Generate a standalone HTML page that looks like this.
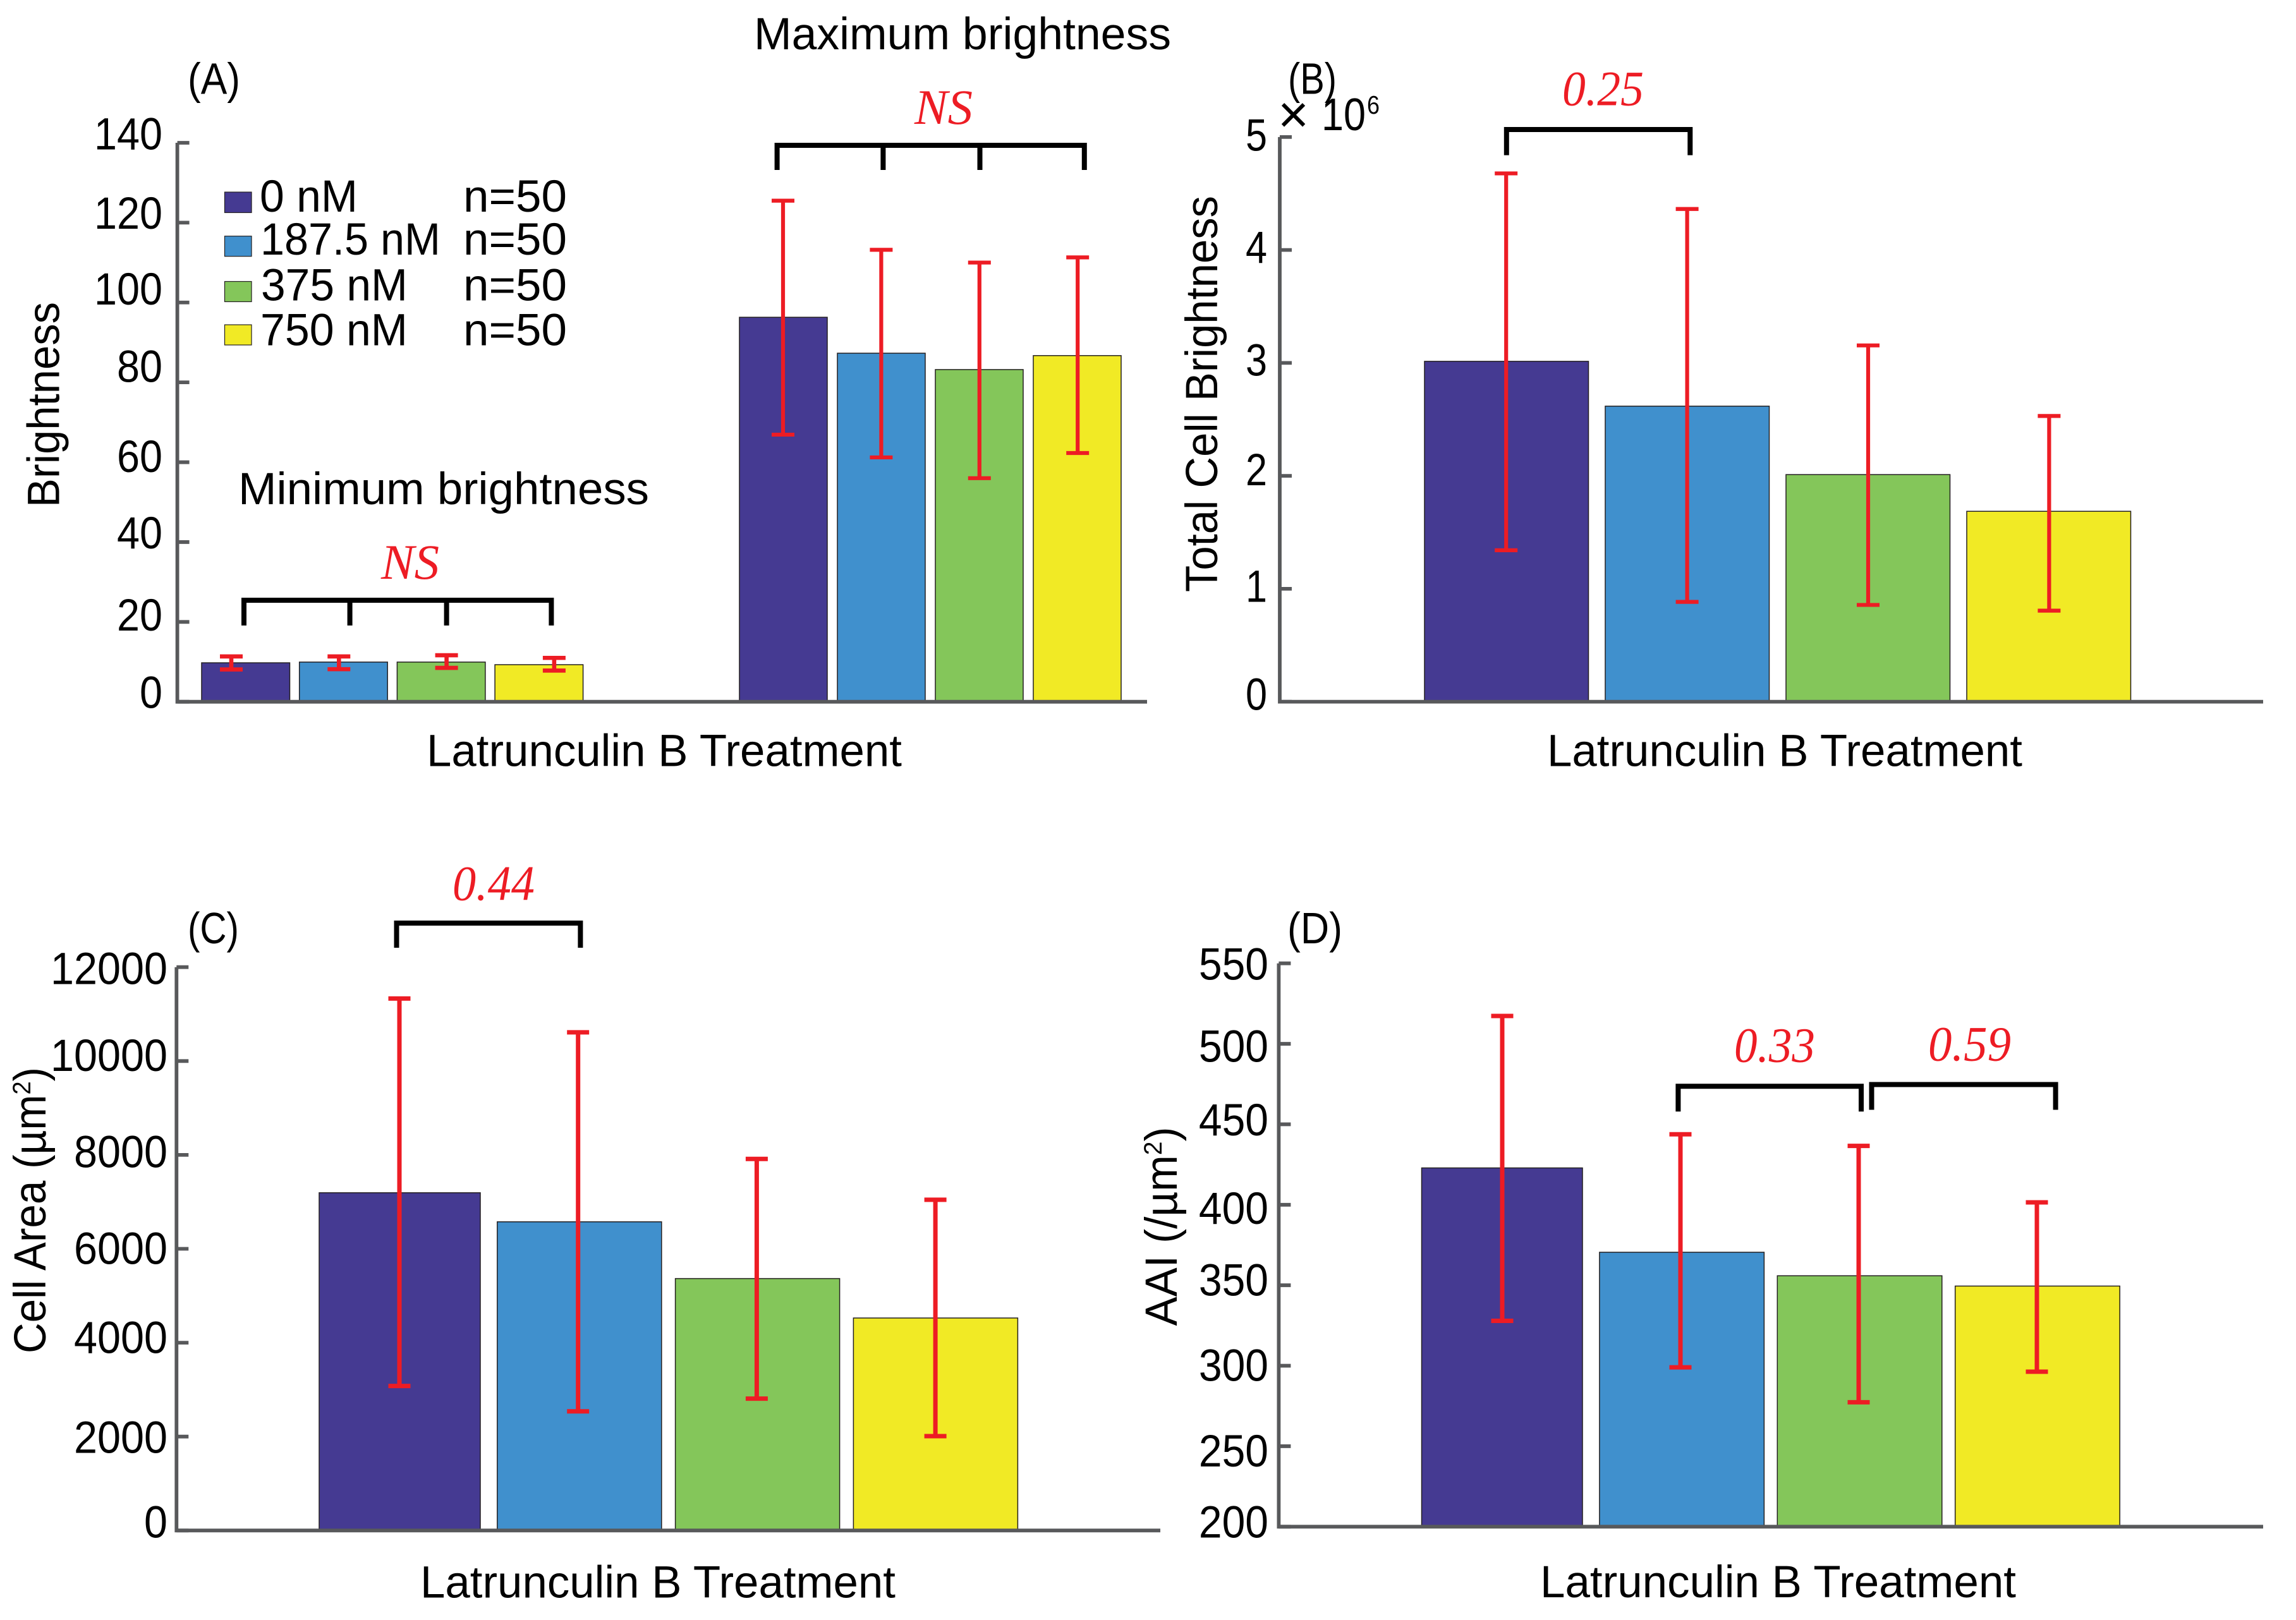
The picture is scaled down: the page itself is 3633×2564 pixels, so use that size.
<!DOCTYPE html>
<html lang="en">
<head>
<meta charset="utf-8">
<title>Latrunculin B Treatment Charts</title>
<style>
html,body{margin:0;padding:0;background:#fff;}
svg{display:block;}
text{font-family:"Liberation Sans",sans-serif;fill:#000;}
.sig{font-family:"Liberation Serif",serif;font-style:italic;fill:#ed1c24;font-size:78px;}
.bracket{fill:none;stroke:#000;stroke-width:8;stroke-linejoin:miter;}
</style>
</head>
<body>
<svg id="chart" xmlns="http://www.w3.org/2000/svg" width="3633" height="2564" viewBox="0 0 3633 2564">
  <rect x="0" y="0" width="3633" height="2564" fill="#ffffff"/>
  <g id="marks"></g>

  <!-- Panel A -->
  <text x="1193" y="78" font-size="71" textLength="660" lengthAdjust="spacingAndGlyphs">Maximum brightness</text>
  <text x="377" y="798" font-size="71" textLength="650" lengthAdjust="spacingAndGlyphs">Minimum brightness</text>
  <text x="297" y="148.7" font-size="70" textLength="83" lengthAdjust="spacingAndGlyphs">(A)</text>
  <text transform="translate(93.7,803) rotate(-90)" font-size="71" textLength="325" lengthAdjust="spacingAndGlyphs">Brightness</text>
  <text x="675" y="1212.5" font-size="71" textLength="752" lengthAdjust="spacingAndGlyphs">Latrunculin B Treatment</text>
  <path class="bracket" d="M386 990V950H872.4V990M553.6 950V990M706.6 950V990"/>
  <path class="bracket" d="M1229.6 269V230H1715.8V269M1397.4 230V269M1550.5 230V269"/>
  <text class="sig" x="603" y="916" textLength="92" lengthAdjust="spacingAndGlyphs">NS</text>
  <text class="sig" x="1447" y="196" textLength="92" lengthAdjust="spacingAndGlyphs">NS</text>

  <g>
    <rect x="355.5" y="304" width="42.5" height="32.5" fill="#453a92" stroke="#231f20" stroke-width="1.2"/>
    <rect x="355.5" y="373.7" width="42.5" height="32" fill="#4090cd" stroke="#231f20" stroke-width="1.2"/>
    <rect x="355.5" y="445.5" width="42.5" height="32" fill="#84c65a" stroke="#231f20" stroke-width="1.2"/>
    <rect x="355.5" y="514" width="42.5" height="32" fill="#f1ea25" stroke="#231f20" stroke-width="1.2"/>
    <text x="411" y="334.8" font-size="71" textLength="155" lengthAdjust="spacingAndGlyphs">0 nM</text>
    <text x="412" y="403" font-size="71" textLength="285" lengthAdjust="spacingAndGlyphs">187.5 nM</text>
    <text x="413" y="475.4" font-size="71" textLength="232" lengthAdjust="spacingAndGlyphs">375 nM</text>
    <text x="412" y="546.4" font-size="71" textLength="233" lengthAdjust="spacingAndGlyphs">750 nM</text>
    <text x="733" y="334.8" font-size="71" textLength="164" lengthAdjust="spacingAndGlyphs">n=50</text>
    <text x="733" y="403" font-size="71" textLength="164" lengthAdjust="spacingAndGlyphs">n=50</text>
    <text x="733" y="475.4" font-size="71" textLength="164" lengthAdjust="spacingAndGlyphs">n=50</text>
    <text x="733" y="546.4" font-size="71" textLength="164" lengthAdjust="spacingAndGlyphs">n=50</text>
  </g>

  <!-- Panel B -->
  <text x="2038" y="148.4" font-size="70" textLength="77" lengthAdjust="spacingAndGlyphs">(B)</text>
  <text x="2022" y="210" font-size="84">×</text>
  <text x="2091" y="206" font-size="72" textLength="70" lengthAdjust="spacingAndGlyphs">10</text>
  <text x="2163" y="180" font-size="41" textLength="20" lengthAdjust="spacingAndGlyphs">6</text>
  <text transform="translate(1926,937) rotate(-90)" font-size="71" textLength="627" lengthAdjust="spacingAndGlyphs">Total Cell Brightness</text>
  <text x="2448" y="1212.3" font-size="71" textLength="752" lengthAdjust="spacingAndGlyphs">Latrunculin B Treatment</text>
  <path class="bracket" d="M2383.8 245.6V205H2674.3V245.6"/>
  <text class="sig" x="2472" y="166.7" textLength="129" lengthAdjust="spacingAndGlyphs">0.25</text>

  <!-- Panel C -->
  <text x="297" y="1492.8" font-size="70" textLength="81" lengthAdjust="spacingAndGlyphs">(C)</text>
  <text transform="translate(72,2142) rotate(-90)" font-size="71" textLength="453" lengthAdjust="spacingAndGlyphs">Cell Area (µm<tspan dy="-24" font-size="40">2</tspan><tspan dy="24">)</tspan></text>
  <text x="665" y="2528.4" font-size="71" textLength="752" lengthAdjust="spacingAndGlyphs">Latrunculin B Treatment</text>
  <path class="bracket" d="M627.5 1500V1461H918.4V1500"/>
  <text class="sig" x="716" y="1424.5" textLength="130" lengthAdjust="spacingAndGlyphs">0.44</text>

  <!-- Panel D -->
  <text x="2037" y="1492.8" font-size="70" textLength="87" lengthAdjust="spacingAndGlyphs">(D)</text>
  <text transform="translate(1862,2098.5) rotate(-90)" font-size="71" textLength="315" lengthAdjust="spacingAndGlyphs">AAI (/µm<tspan dy="-24" font-size="40">2</tspan><tspan dy="24">)</tspan></text>
  <text x="2437" y="2528" font-size="71" textLength="753" lengthAdjust="spacingAndGlyphs">Latrunculin B Treatment</text>
  <path class="bracket" d="M2655.4 1759.2V1719.2H2945V1759.2"/>
  <path class="bracket" d="M2961.5 1756.5V1716.5H3252.6V1756.5"/>
  <text class="sig" x="2744" y="1680.5" textLength="128" lengthAdjust="spacingAndGlyphs">0.33</text>
  <text class="sig" x="3051" y="1678.5" textLength="131" lengthAdjust="spacingAndGlyphs">0.59</text>
</svg>

<script>
// ---- Data ----
const categories = ['0 nM', '187.5 nM', '375 nM', '750 nM'];

const minBrightnessMeans = [9.76, 9.94, 9.94, 9.29];
const minBrightnessHighs = [11.35, 11.35, 11.66, 10.99];
const minBrightnessLows = [8.09, 8.16, 8.49, 7.82];

const maxBrightnessMeans = [96.3, 87.3, 83.2, 86.7];
const maxBrightnessHighs = [125.5, 113.2, 110.0, 111.3];
const maxBrightnessLows = [66.9, 61.2, 56.0, 62.3];

const totalBrightnessMeans = [3.014, 2.617, 2.011, 1.686];
const totalBrightnessHighs = [4.678, 4.363, 3.155, 2.53];
const totalBrightnessLows = [1.341, 0.884, 0.857, 0.806];

const cellAreaMeans = [7194, 6575, 5366, 4526];
const cellAreaHighs = [11331, 10611, 7914, 7044];
const cellAreaLows = [3078, 2538, 2808, 2009];

const aaiMeans = [422.9, 370.5, 355.9, 349.5];
const aaiHighs = [517.3, 443.8, 436.6, 401.5];
const aaiLows = [327.9, 299.0, 277.3, 296.3];

const brightnessTicks = [0, 20, 40, 60, 80, 100, 120, 140];
const totalBrightnessTicks = [0, 1, 2, 3, 4, 5];
const cellAreaTicks = [0, 2000, 4000, 6000, 8000, 10000, 12000];
const aaiTicks = [200, 250, 300, 350, 400, 450, 500, 550];

// ---- Layout (separate from data) ----
const barFills = ['#453a92', '#4090cd', '#84c65a', '#f1ea25'];
const NS = 'http://www.w3.org/2000/svg';
const root = document.getElementById('marks');

function make(tag, attrs, parent) {
  const el = document.createElementNS(NS, tag);
  for (const k in attrs) el.setAttribute(k, attrs[k]);
  parent.appendChild(el);
  return el;
}
function linearAxis(domainLow, domainHigh, pxLow, pxHigh) {
  return v => pxLow + (v - domainLow) * (pxHigh - pxLow) / (domainHigh - domainLow);
}
function slug(s) {
  return s.toLowerCase().replace(/[^a-z0-9]+/g, '-');
}

function drawBars(prefix, yAxis, means, highs, lows, g) {
  const group = make('g', {}, root);
  
  
  const base = yAxis(g.baseValue);
  categories.forEach((cat, i) => {
    const x = g.barStart + i * g.barStep;
    const top = yAxis(means[i]);
    const width = i === 0 ? g.barWidth - (g.firstBarTrim || 0) : g.barWidth;
    const bar = make('rect', {x: x, y: top, width: width, height: base - top, fill: barFills[i], stroke: '#231f20', 'stroke-width': 1.5}, group);
    
    
  });
  categories.forEach((cat, i) => {
    const cx = g.errStart + i * g.errStep;
    const hi = yAxis(highs[i]);
    const lo = yAxis(lows[i]);
    const err = make('path', {
      d: 'M' + (cx - g.cap / 2) + ' ' + hi + 'H' + (cx + g.cap / 2) +
         'M' + cx + ' ' + hi + 'V' + lo +
         'M' + (cx - g.cap / 2) + ' ' + lo + 'H' + (cx + g.cap / 2),
      fill: 'none', stroke: '#ed1c24', 'stroke-width': g.errWidth
    }, group);
    
    
  });
}

function drawAxis(prefix, yAxis, ticks, a) {
  const group = make('g', {}, root);
  
  
  const top = yAxis(ticks[ticks.length - 1]);
  const base = yAxis(ticks[0]);
  const line = make('path', {
    d: 'M' + a.x + ' ' + top + 'V' + base + 'H' + a.end,
    fill: 'none', stroke: '#58595b', 'stroke-width': 5.8
  }, group);
  
  
  ticks.forEach((t, i) => {
    const y = yAxis(t);
    const mark = make('line', {x1: a.x, x2: a.x + 19, y1: y, y2: y, stroke: '#58595b', 'stroke-width': 5.8}, group);
    
    
    const label = make('text', {
      x: a.labelX, y: y + a.labelNudge[i], 'text-anchor': 'end', 'font-size': 71,
      textLength: String(t).length * a.digit, lengthAdjust: 'spacingAndGlyphs'
    }, group);
    label.textContent = String(t);
    
    
  });
}

// Panel A
const yA = linearAxis(0, 140, 1110.7, 226);
drawBars('panel-a-min', yA, minBrightnessMeans, minBrightnessHighs, minBrightnessLows,
  {baseValue: 0, barStart: 319, barStep: 154.7, barWidth: 139.5, errStart: 366, errStep: 170.3, cap: 36, errWidth: 6.6});
drawBars('panel-a-max', yA, maxBrightnessMeans, maxBrightnessHighs, maxBrightnessLows,
  {baseValue: 0, barStart: 1170, barStep: 155, barWidth: 139, errStart: 1239, errStep: 155.4, cap: 36, errWidth: 6.2});
drawAxis('panel-a', yA, brightnessTicks,
  {x: 280.6, end: 1815, labelX: 257, digit: 36, labelNudge: [10, 13.5, 10, 15.4, -0.5, 3.4, 9.6, 10.6]});

// Panel B
const yB = linearAxis(0, 5, 1110.6, 216.9);
drawBars('panel-b', yB, totalBrightnessMeans, totalBrightnessHighs, totalBrightnessLows,
  {baseValue: 0, barStart: 2254, barStep: 286, barWidth: 259.5, errStart: 2383.2, errStep: 286.4, cap: 36, errWidth: 6.2});
drawAxis('panel-b', yB, totalBrightnessTicks,
  {x: 2025, end: 3581, labelX: 2005, digit: 34, labelNudge: [12.7, 20.5, 15, 20.3, 20.6, 21.4]});

// Panel C
const yC = linearAxis(0, 12000, 2422.3, 1530.7);
drawBars('panel-c', yC, cellAreaMeans, cellAreaHighs, cellAreaLows,
  {baseValue: 0, barStart: 505, barStep: 281.8, barWidth: 260, firstBarTrim: 5, errStart: 632, errStep: 282.7, cap: 35, errWidth: 7});
drawAxis('panel-c', yC, cellAreaTicks,
  {x: 279.3, end: 1836, labelX: 265, digit: 37, labelNudge: [11, 25.7, 16.2, 24, 19.4, 15.7, 26.7]});

// Panel D
const yD = linearAxis(200, 550, 2416.3, 1524.7);
drawBars('panel-d', yD, aaiMeans, aaiHighs, aaiLows,
  {baseValue: 200, barStart: 2249.5, barStep: 281.4, barWidth: 260.5, firstBarTrim: 6, errStart: 2377, errStep: 282, cap: 35, errWidth: 7});
drawAxis('panel-d', yD, aaiTicks,
  {x: 2023.4, end: 3581, labelX: 2007, digit: 36.7, labelNudge: [17, 31.9, 23.7, 16.3, 30.4, 17.6, 28.2, 26]});
</script>
</body>
</html>
